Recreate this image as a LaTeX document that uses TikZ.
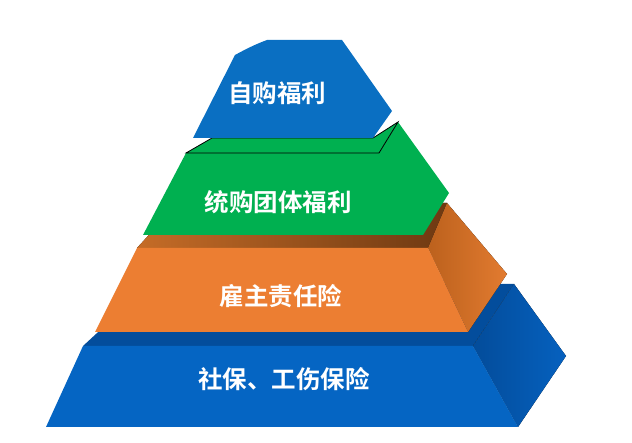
\documentclass[tikz,border=0pt]{standalone}
\usepackage{fontspec}
\newfontfamily\cjk{Noto Sans CJK SC}[BoldFont={* Bold}]
\definecolor{topblue}{HTML}{0A6FC2}
\definecolor{tiergreen}{HTML}{00B050}
\definecolor{tierorange}{HTML}{EC7E32}
\definecolor{orangeTopA}{HTML}{C56C27}
\definecolor{orangeTopB}{HTML}{6E3912}
\definecolor{orangeSideA}{HTML}{BC611D}
\definecolor{orangeSideB}{HTML}{E27B30}
\definecolor{baseblue}{HTML}{0565C3}
\definecolor{baseTop}{HTML}{034D9C}
\definecolor{baseSideA}{HTML}{034C9A}
\definecolor{baseSideB}{HTML}{0661BF}
\tikzset{
  label/.style={text=white, font=\cjk\bfseries\fontsize{24.5}{27}\selectfont, inner sep=0pt}
}
\begin{document}
\begin{tikzpicture}[x=1pt,y=-1pt]
\useasboundingbox (0,0) rectangle (632,443);
% ---------- base tier (blue) ----------
\fill[baseTop] (83,346) -- (150,284) -- (514,284) -- (473,346) -- cycle;
\fill[left color=baseSideA, right color=baseSideB] (473,346) -- (514,284) -- (566,356) -- (518,427) -- cycle;
\fill[baseblue] (46,427) -- (83,346) -- (473,346) -- (518,427) -- cycle;
% ---------- orange tier ----------
\fill[left color=orangeTopA, right color=orangeTopB] (137,248) -- (178,203) -- (447,203) -- (428,248) -- cycle;
\fill[left color=orangeSideA, right color=orangeSideB] (428,248) -- (447,203) -- (507,274) -- (468,332) -- cycle;
\fill[tierorange] (95,332) -- (137,248) -- (428,248) -- (468,332) -- cycle;
% ---------- green tier ----------
\fill[tiergreen] (143,235) -- (186,153) -- (379,153) -- (398,122) -- (449,193) -- (423,235) -- cycle;
\draw[fill=tiergreen, line width=0.8pt, line join=miter] (186,153) -- (212,138) -- (373,138) -- (398,122) -- (379,153) -- cycle;
% ---------- top tier (blue) ----------
\fill[topblue] (193,138) -- (235,55) .. controls (246,49) and (256,44) .. (267,40) -- (342,40) -- (392,111) -- (373,138) -- cycle;
% ---------- labels ----------
\node[label] (t1) at (277,93) {自购福利};
\node[label] (t2) at (278,202) {统购团体福利};
\node[label] (t3) at (281,296) {雇主责任险};
\node[label] (t4) at (284,379) {社保、工伤保险};
\end{tikzpicture}
\end{document}
